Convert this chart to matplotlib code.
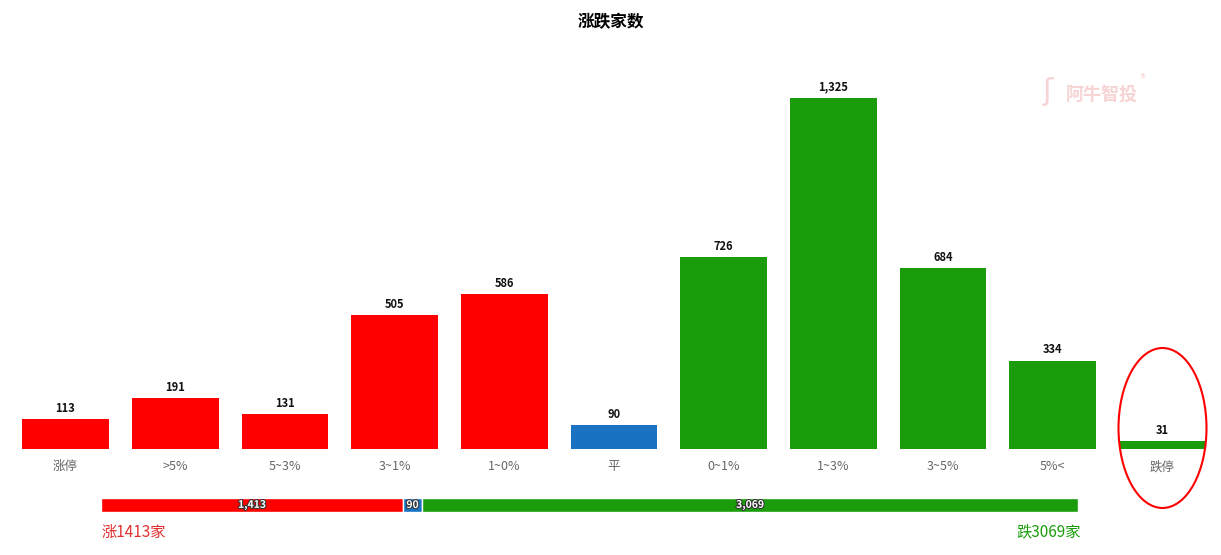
import matplotlib
matplotlib.use("Agg")
import matplotlib.pyplot as plt
import matplotlib.patheffects as pe
from matplotlib.patches import Ellipse

plt.rcParams['font.family'] = ['Noto Sans CJK SC', 'DejaVu Sans']

categories = ['涨停', '>5%', '5~3%', '3~1%', '1~0%', '平', '0~1%', '1~3%', '3~5%', '5%<', '跌停']
counts = [113, 191, 131, 505, 586, 90, 726, 1325, 684, 334, 31]
kinds = ['up'] * 5 + ['flat'] + ['down'] * 5

summary_labels = ['涨', '平', '跌']
summary_values = [1413, 90, 3069]

RED = '#FF0000'
BLUE = '#1A73C2'
GREEN = '#1A9C0B'
colors = {'up': RED, 'flat': BLUE, 'down': GREEN}

W, H = 1221, 555
fig = plt.figure(figsize=(W / 100, H / 100), dpi=100)

# main bar chart
ax_l, ax_r, ax_b, ax_t = 10.65, 1217.35, 449, 60
ax = fig.add_axes([ax_l / W, 1 - ax_b / H, (ax_r - ax_l) / W, (ax_b - ax_t) / H])
x = list(range(len(categories)))
ax.bar(x, counts, width=0.79, color=[colors[k] for k in kinds])
ax.set_xlim(-0.5, len(categories) - 0.5)
ax.set_ylim(0, 1325 * (ax_b - ax_t) / (ax_b - 98))
for xi, v in zip(x, counts):
    ax.annotate(f'{v:,}', (xi, v), xytext=(0, 3), textcoords='offset points',
                ha='center', va='bottom', fontsize=8, fontweight='bold', color='#111111')
ax.set_xticks(x)
ax.set_xticklabels(categories, fontsize=9, color='#666666')
ax.tick_params(axis='x', length=0, pad=8)
ax.set_yticks([])
for s in ax.spines.values():
    s.set_visible(False)

# highlight of the last bar
ell = Ellipse((1162.5 / W, 1 - 428 / H), 88 / W, 160 / H, transform=fig.transFigure,
              fill=False, edgecolor='#FF0000', linewidth=1.5)
fig.patches.append(ell)

# watermark
fig.text(1066 / W, 1 - 94 / H, '阿牛智投', fontsize=13, fontweight='bold',
         color='#F7D4D4', ha='left', va='center')
fig.text(1143 / W, 1 - 79 / H, '®', fontsize=7, color='#F7D4D4', ha='center', va='center')
fig.text(1048 / W, 1 - 92 / H, 'ʃ', fontsize=22, color='#F7D4D4', ha='center', va='center')

fig.text(0.5, 1 - 22 / H, '涨跌家数', ha='center', va='center', fontsize=12, fontweight='bold')

# summary stacked bar
total = sum(summary_values)
axb = fig.add_axes([101 / W, 1 - 512 / H, (1078 - 101) / W, 14 / H])
left = 0
seg_colors = [RED, BLUE, GREEN]
for v, c in zip(summary_values, seg_colors):
    axb.barh(0, v, left=left, height=1, color=c, edgecolor='white', linewidth=1)
    axb.text(left + v / 2, 0, f'{v:,}', ha='center', va='center', fontsize=7.5,
             fontweight='bold', color='white',
             path_effects=[pe.withStroke(linewidth=1.5, foreground='#333333')])
    left += v
axb.set_xlim(0, total)
axb.set_ylim(-0.5, 0.5)
axb.axis('off')

fig.text(101 / W, 1 - 532 / H, f'{summary_labels[0]}{summary_values[0]}家', color='#E03030',
         fontsize=11, ha='left', va='center')
fig.text(1081 / W, 1 - 532 / H, f'{summary_labels[2]}{summary_values[2]}家', color=GREEN,
         fontsize=11, ha='right', va='center')

fig.savefig('out.png', dpi=100, facecolor='white')
